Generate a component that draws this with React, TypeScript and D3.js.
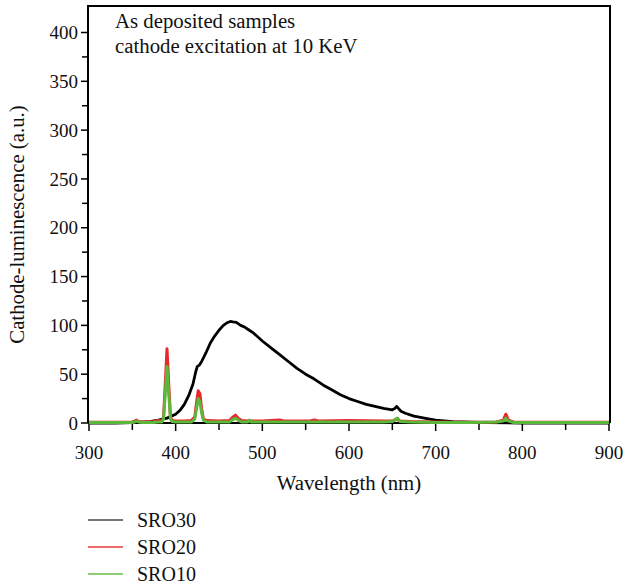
import React from "react";
import * as d3 from "d3";

const wl30 = [300, 330, 350, 360, 370, 380, 390, 400, 405, 410, 415, 420, 423, 425, 427, 430, 435, 440, 445, 450, 455, 460, 463, 466, 470, 475, 480, 485, 490, 500, 510, 520, 530, 540, 550, 560, 570, 580, 590, 600, 610, 620, 630, 640, 650, 653, 655, 657, 660, 665, 675, 690, 700, 720, 740, 760, 800, 850, 900];
const sro30 = [0, 0, 0.5, 1, 1.5, 3, 5, 9, 13, 19, 28, 40, 52, 58, 59, 63, 72, 82, 89, 95, 100, 103, 104, 103.5, 103, 100, 98, 95, 92, 84, 77, 70, 63, 56, 50, 45, 39, 34, 29, 25, 22, 19, 17, 15, 13.5, 15, 17, 15, 12, 10, 7, 4.5, 3, 1.5, 0.8, 0.3, 0, 0, 0];

const wlAtomic = [300, 340, 350, 353, 355, 357, 362, 375, 380, 384, 386, 388, 390, 392, 394, 396, 400, 410, 418, 422, 424, 426, 428, 430, 432, 436, 450, 462, 466, 469, 472, 476, 483, 485, 487, 500, 520, 525, 555, 560, 565, 600, 640, 650, 654, 656, 659, 670, 700, 740, 770, 778, 781, 784, 790, 850, 900];
const sro20 = [0.8, 0.8, 1, 2, 3, 1.5, 1, 1.5, 2.5, 2, 6, 40, 76, 40, 6, 2.5, 2, 2, 2.5, 6, 20, 33, 30, 14, 4, 2.5, 2, 2.5, 6, 8, 5, 2.5, 2, 2.5, 2, 2, 3, 2, 2, 3, 2, 2.5, 2, 2, 3.5, 3.5, 2, 1.5, 1, 0.8, 1, 3, 9, 3, 1, 0.8, 0.8];
const sro10 = [0.5, 0.5, 0.5, 1, 2, 1, 0.5, 0.5, 1, 1, 4, 30, 58, 30, 4, 1.5, 1, 1, 1, 4, 14, 25, 22, 10, 3, 1, 1, 1, 3.5, 5, 3, 1, 1, 3, 1, 1, 1, 1, 1, 1, 1, 1, 1, 1.5, 4, 5, 1.5, 1, 0.5, 0.5, 1, 2, 5, 2, 0.5, 0.5, 0.5];

const yTicks = [0, 50, 100, 150, 200, 250, 300, 350, 400];
const xTicks = [300, 400, 500, 600, 700, 800, 900];
const yMinor = [25, 75, 125, 175, 225, 275, 325, 375];
const xMinor = [350, 450, 550, 650, 750, 850];

const seriesNames = ["SRO30", "SRO20", "SRO10"];
const seriesColors = ["#000000", "#e8282a", "#5cb83a"];
const legendColors = ["#444444", "#e8383a", "#66bb44"];
const annotation = ["As deposited samples", "cathode excitation at 10 KeV"];

const FONT = "'Liberation Serif', 'Times New Roman', serif";

export default function App() {
  const left = 88, right = 610, top = 6, bottom = 423;
  const x = d3.scaleLinear().domain([300, 900]).range([left + 1, right - 1]);
  const y = d3.scaleLinear().domain([0, 400]).range([423, 32.5]);

  const line = d3.line<[number, number]>().x((d) => x(d[0])).y((d) => y(d[1]));
  const path30 = line(wl30.map((w, i) => [w, sro30[i]]));
  const path20 = line(wlAtomic.map((w, i) => [w, sro20[i]]));
  const path10 = line(wlAtomic.map((w, i) => [w, sro10[i]]));

  return (
    <svg width={625} height={587} style={{ position: "absolute", left: 0, top: 0, background: "#fff" }} fontFamily={FONT}>
      <path d={`M${left},${bottom} V${top} H${right} V${bottom}`} fill="none" stroke="#000" strokeWidth={2} />
      <line x1={left} x2={right} y1={bottom} y2={bottom} stroke="#000" strokeWidth={2} />
      {yTicks.map((t) => (
        <g key={"y" + t}>
          <line x1={left - 7} x2={left} y1={y(t)} y2={y(t)} stroke="#000" strokeWidth={1.5} />
          <text x={left - 10} y={y(t)} dy="0.35em" textAnchor="end" fontSize={19} fill="#111">{t}</text>
        </g>
      ))}
      {yMinor.map((t) => (
        <line key={"ym" + t} x1={left - 6} x2={left} y1={y(t)} y2={y(t)} stroke="#000" strokeWidth={1.5} />
      ))}
      {xTicks.map((t) => (
        <g key={"x" + t}>
          <line x1={x(t)} x2={x(t)} y1={bottom} y2={bottom + 8} stroke="#000" strokeWidth={1.5} />
          <text x={x(t)} y={bottom + 36} textAnchor="middle" fontSize={19} fill="#111">{t}</text>
        </g>
      ))}
      {xMinor.map((t) => (
        <line key={"xm" + t} x1={x(t)} x2={x(t)} y1={bottom} y2={bottom + 7} stroke="#000" strokeWidth={1.5} />
      ))}
      <path d={path30 || ""} fill="none" stroke={seriesColors[0]} strokeWidth={2.8} strokeLinejoin="round" />
      <path d={path20 || ""} fill="none" stroke={seriesColors[1]} strokeWidth={3} strokeLinejoin="round" />
      <path d={path10 || ""} fill="none" stroke={seriesColors[2]} strokeWidth={3} strokeLinejoin="round" />
      {annotation.map((s, i) => (
        <text key={s} x={115} y={28 + i * 25} fontSize={20.8} fill="#111">{s}</text>
      ))}
      <text x={349} y={490} textAnchor="middle" fontSize={20.8} fill="#111">Wavelength (nm)</text>
      <text transform={`translate(24,${(top + bottom) / 2 + 10}) rotate(-90)`} textAnchor="middle" fontSize={20.8} fill="#111">Cathode-luminescence (a.u.)</text>
      {seriesNames.map((n, i) => (
        <g key={n}>
          <line x1={88} x2={123} y1={520 + i * 27} y2={520 + i * 27} stroke={legendColors[i]} strokeWidth={1.5} />
          <text x={137} y={527 + i * 27} fontSize={20} fill="#111">{n}</text>
        </g>
      ))}
    </svg>
  );
}
